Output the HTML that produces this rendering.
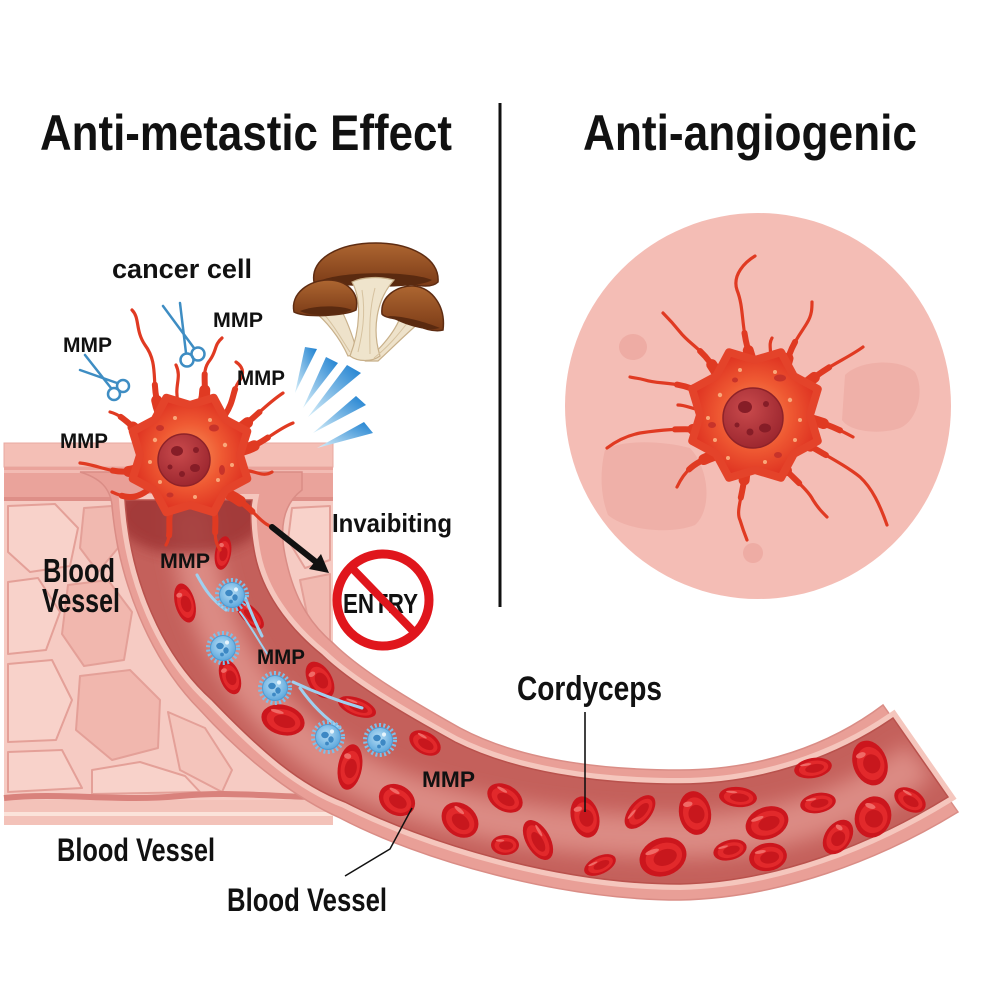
<!DOCTYPE html>
<html><head><meta charset="utf-8"><title>Cordyceps Anti-metastatic &amp; Anti-angiogenic</title>
<style>
html,body{margin:0;padding:0;background:#fff;}
svg{display:block;}
text{font-family:"Liberation Sans",Arial,sans-serif;font-weight:700;fill:#111;}
</style></head>
<body>
<svg xmlns="http://www.w3.org/2000/svg" xmlns:xlink="http://www.w3.org/1999/xlink" width="1000" height="1000" viewBox="0 0 1000 1000">
<defs>
 <radialGradient id="cg" cx="50%" cy="50%" r="50%"><stop offset="0" stop-color="#f8935a"/><stop offset="0.55" stop-color="#ef5a33"/><stop offset="1" stop-color="#df3422"/></radialGradient>
 <radialGradient id="ng" cx="40%" cy="35%" r="65%"><stop offset="0" stop-color="#c94a4c"/><stop offset="1" stop-color="#9e2830"/></radialGradient>
 <linearGradient id="ray" x1="0" y1="1" x2="1" y2="0"><stop offset="0" stop-color="#d8eff9"/><stop offset="1" stop-color="#1b7fd0"/></linearGradient>
 <radialGradient id="bc" cx="45%" cy="40%" r="60%"><stop offset="0" stop-color="#b8def5"/><stop offset="1" stop-color="#5ea8dd"/></radialGradient>
 <linearGradient id="cap" x1="0" y1="0" x2="0" y2="1"><stop offset="0" stop-color="#ad6631"/><stop offset="1" stop-color="#7b3b17"/></linearGradient>
 <filter id="bl" x="-30%" y="-30%" width="160%" height="160%"><feGaussianBlur stdDeviation="10"/></filter>
 <filter id="bl2" x="-30%" y="-30%" width="160%" height="160%"><feGaussianBlur stdDeviation="6"/></filter>
 <clipPath id="chan"><path d="M125,500 C130,580 162,655 212,700 C262,752 300,785 345,802 C425,843 560,884 680,884 C775,882 870,845 948,797 L893,718 C835,758 760,784 680,784 C595,784 515,772 455,742 C400,712 350,682 322,655 C285,625 262,590 255,555 C250,530 250,510 252,500 Z"/></clipPath>
 <clipPath id="circ"><circle cx="758" cy="406" r="193"/></clipPath>
 <g id="rbc">
   <ellipse rx="1" ry="1" fill="#cc161d"/>
   <ellipse cx="0.03" cy="0.03" rx="0.78" ry="0.74" fill="#e2292b"/>
   <ellipse cx="0.08" cy="0.06" rx="0.5" ry="0.42" fill="#c8171d"/>
   <ellipse cx="-0.35" cy="-0.45" rx="0.3" ry="0.12" fill="#f06a66"/>
 </g>
 <g id="bcell">
   <circle r="14.5" fill="none" stroke="#7fbfe8" stroke-width="5" stroke-dasharray="2 2.2"/>
   <circle r="12.5" fill="url(#bc)" stroke="#4e9bd3" stroke-width="1"/>
   <ellipse cx="-3" cy="-2" rx="3.8" ry="3.2" fill="#3d88c4"/>
   <ellipse cx="3" cy="2.5" rx="2.7" ry="3.2" fill="#3d88c4"/>
   <circle cx="-1" cy="6.5" r="1.9" fill="#3d88c4"/>
   <circle cx="4" cy="-5.5" r="2.1" fill="#e6f4fc"/>
 </g>
 <path id="l1" d="M160,412 C150,385 160,365 145,345 C135,330 140,318 132,310"/>
 <path id="l2" d="M203,402 C208,385 200,372 210,360 C217,350 214,345 222,338"/>
 <path id="l3" d="M225,415 C235,400 232,390 240,380 C245,372 242,366 236,362"/>
 <path id="l4" d="M238,430 C255,418 265,405 283,393"/>
 <path id="l5" d="M243,450 C262,445 275,430 293,423"/>
 <path id="l6" d="M242,470 C255,470 262,478 272,472"/>
 <path id="l7" d="M230,495 C250,505 258,520 268,525 C272,528 275,530 278,533"/>
 <path id="l8" d="M212,505 C220,520 210,535 220,550"/>
 <path id="l9" d="M172,508 C166,520 173,532 166,545"/>
 <path id="l10" d="M140,468 C120,478 100,465 80,463"/>
 <path id="l11" d="M142,435 C130,425 122,415 110,412"/>
 <path id="l12" d="M148,490 C135,500 125,498 112,492"/>
 <path id="l13" d="M178,402 C174,385 182,378 176,365"/>
 <path id="r1" d="M752,362 C740,330 745,310 737,290 C732,275 745,262 755,256"/>
 <path id="r2" d="M718,375 C705,350 690,345 680,332 C672,322 668,318 663,313"/>
 <path id="r3" d="M785,370 C790,345 800,335 807,323 C812,315 812,308 812,302"/>
 <path id="r4" d="M805,385 C828,365 845,360 863,347"/>
 <path id="r5" d="M705,395 C680,380 660,385 645,380 C638,378 634,378 630,377"/>
 <path id="r6" d="M705,430 C680,428 660,430 640,433 C625,436 615,442 607,448"/>
 <path id="r7" d="M715,455 C695,462 685,470 677,487"/>
 <path id="r8" d="M745,468 C745,490 735,510 740,520 C743,530 745,535 747,540"/>
 <path id="r9" d="M778,462 C795,480 808,490 813,500 C818,508 822,512 827,517"/>
 <path id="r10" d="M800,440 C825,455 845,465 860,477 C872,488 880,505 887,525"/>
 <path id="r11" d="M812,420 C830,425 840,430 853,437"/>
 <path id="r12" d="M770,362 C772,350 768,345 772,338"/>
 <path id="r13" d="M700,410 C690,408 685,405 678,405"/>
</defs>

<rect width="1000" height="1000" fill="#fff"/>

<text x="40" y="150" font-size="50" textLength="412" lengthAdjust="spacingAndGlyphs">Anti-metastic Effect</text>
<text x="583" y="150" font-size="50" textLength="334" lengthAdjust="spacingAndGlyphs">Anti-angiogenic</text>
<line x1="500" y1="103" x2="500" y2="607" stroke="#111" stroke-width="3"/>

<circle cx="758" cy="406" r="193" fill="#f4bdb5"/>
<g clip-path="url(#circ)">
 <ellipse cx="633" cy="347" rx="14" ry="13" fill="#eeaca4"/>
 <path d="M845,375 C860,360 900,358 915,372 C925,390 918,420 900,428 C880,435 850,432 842,420 Z" fill="#efb0a8"/>
 <path d="M605,450 C620,440 660,440 690,448 C710,470 712,510 695,525 C670,535 625,530 608,515 C600,495 600,470 605,450 Z" fill="#efb0a8"/>
 <circle cx="753" cy="553" r="10" fill="#eeaca4"/>
</g>
<g fill="none" stroke="#e03a22" stroke-linecap="round">
 <g stroke-width="3.2"><use xlink:href="#r1"/><use xlink:href="#r2"/><use xlink:href="#r3"/><use xlink:href="#r4"/><use xlink:href="#r5"/><use xlink:href="#r6"/><use xlink:href="#r7"/><use xlink:href="#r8"/><use xlink:href="#r9"/><use xlink:href="#r10"/><use xlink:href="#r11"/><use xlink:href="#r12"/><use xlink:href="#r13"/></g>
 <g stroke-width="6" stroke-dasharray="30 500"><use xlink:href="#r1"/><use xlink:href="#r2"/><use xlink:href="#r3"/><use xlink:href="#r4"/><use xlink:href="#r5"/><use xlink:href="#r6"/><use xlink:href="#r7"/><use xlink:href="#r8"/><use xlink:href="#r9"/><use xlink:href="#r10"/><use xlink:href="#r11"/></g>
 <g stroke-width="11" stroke-dasharray="12 500"><use xlink:href="#r1"/><use xlink:href="#r2"/><use xlink:href="#r3"/><use xlink:href="#r4"/><use xlink:href="#r5"/><use xlink:href="#r6"/><use xlink:href="#r7"/><use xlink:href="#r8"/><use xlink:href="#r9"/><use xlink:href="#r10"/><use xlink:href="#r11"/></g>
</g>
<polygon points="810,415 817.8,441 793.9,453.9 781,477.8 755,470 729,477.8 716.1,453.9 692.2,441 700,415 692.2,389 716.1,376.1 729,352.2 755,360 781,352.2 793.9,376.1 817.8,389" fill="url(#cg)" stroke="#e4432a" stroke-width="8" stroke-linejoin="round"/>
<g fill="#f9a77a">
 <circle cx="720" cy="395" r="2.2"/><circle cx="790" cy="400" r="2.2"/><circle cx="795" cy="440" r="2"/><circle cx="715" cy="440" r="2"/><circle cx="740" cy="370" r="2"/><circle cx="775" cy="372" r="2"/><circle cx="765" cy="462" r="2"/><circle cx="728" cy="458" r="2"/><circle cx="800" cy="420" r="2"/><circle cx="708" cy="418" r="2"/>
</g>
<g fill="#c7332a"><ellipse cx="780" cy="378" rx="6" ry="3.5"/><ellipse cx="712" cy="425" rx="4" ry="3"/><ellipse cx="778" cy="455" rx="4" ry="3"/><ellipse cx="735" cy="380" rx="3" ry="2.5"/></g>
<circle cx="753" cy="418" r="30" fill="url(#ng)" stroke="#8e2229" stroke-width="1.5"/>
<g fill="#861d27"><ellipse cx="745" cy="407" rx="7" ry="6"/><ellipse cx="765" cy="428" rx="6" ry="4.5"/><circle cx="750" cy="432" r="3.5"/><circle cx="766" cy="404" r="3"/><circle cx="737" cy="425" r="2.5"/></g>

<rect x="4" y="443" width="329" height="382" fill="#f6cbc3"/>
<rect x="4" y="443" width="329" height="24" fill="#f4bfb6" stroke="#e8a8a0" stroke-width="1"/>
<rect x="4" y="467" width="329" height="31" fill="#eaa39b"/>
<rect x="4" y="470" width="329" height="3" fill="#f2bbb3"/>
<rect x="4" y="497" width="329" height="4" fill="#de8f88"/>
<g stroke="#e4a098" stroke-width="2" stroke-linejoin="round">
 <path d="M8,506 L55,504 L78,528 L70,566 L30,572 L8,552 Z" fill="#f8d2ca"/>
 <path d="M84,508 L112,506 L118,548 L98,572 L80,548 Z" fill="#f1b9b0"/>
 <path d="M8,582 L38,578 L60,612 L46,650 L8,654 Z" fill="#f8d2ca"/>
 <path d="M68,585 L108,580 L132,612 L124,660 L84,666 L62,634 Z" fill="#f1b7ae"/>
 <path d="M8,664 L52,660 L72,700 L56,740 L8,742 Z" fill="#f8d2ca"/>
 <path d="M80,676 L130,670 L160,700 L158,748 L112,760 L76,730 Z" fill="#f1b7ae"/>
 <path d="M8,752 L62,750 L82,788 L8,792 Z" fill="#f8d2ca"/>
 <path d="M92,770 L140,762 L185,776 L200,792 L92,794 Z" fill="#f8d2ca"/>
 <path d="M168,712 L205,728 L232,770 L222,792 L180,770 Z" fill="#f4c4bb"/>
 <path d="M292,508 L330,506 L330,560 L305,568 L288,540 Z" fill="#f8d2ca"/>
 <path d="M300,580 L330,574 L330,640 L312,638 Z" fill="#f1b9b0"/>
</g>
<rect x="4" y="800" width="329" height="25" fill="#f3c2b9"/>
<path d="M4,798 C60,792 120,802 180,796 C240,790 300,800 333,796" fill="none" stroke="#d9827c" stroke-width="6"/>
<rect x="4" y="812" width="329" height="4" fill="#fbe3da"/>

<path d="M80,472 C100,478 110,488 112,505 C118,580 150,660 200,710 C250,765 300,800 340,818 C420,860 560,900 680,900 C780,898 880,860 958,812 L883,705 C830,745 760,770 680,770 C600,770 520,760 460,728 C410,700 360,670 333,643 C305,620 292,590 285,555 C280,530 282,505 302,490 L302,472 Z" fill="#e99f97" stroke="#da8d86" stroke-width="1.5"/>
<path d="M125,500 C130,580 162,655 212,700 C262,752 300,785 345,802 C425,843 560,884 680,884 C775,882 870,845 948,797 L893,718 C835,758 760,784 680,784 C595,784 515,772 455,742 C400,712 350,682 322,655 C285,625 262,590 255,555 C250,530 250,510 252,500 Z" fill="#c4605b" stroke="#f5c6bd" stroke-width="12"/>
<g clip-path="url(#chan)">
 <rect x="100" y="480" width="900" height="450" fill="#c4605b"/>
 <path d="M190,505 C195,610 240,700 330,760 C420,815 560,838 690,836 C790,834 870,800 920,760" fill="none" stroke="#dc8b84" stroke-width="42" filter="url(#bl)"/>
 <ellipse cx="190" cy="515" rx="75" ry="40" fill="#9c3232" filter="url(#bl2)" opacity="0.8"/>
</g>
<path d="M125,500 C130,580 162,655 212,700 C262,752 300,785 345,802 C425,843 560,884 680,884 C775,882 870,845 948,797 L893,718 C835,758 760,784 680,784 C595,784 515,772 455,742 C400,712 350,682 322,655 C285,625 262,590 255,555 C250,530 250,510 252,500 Z" fill="none" stroke="#b9524d" stroke-width="1.5"/>

<use xlink:href="#rbc" transform="translate(223,553) rotate(10) scale(8,17)"/>
<use xlink:href="#rbc" transform="translate(185,603) rotate(-15) scale(10,20)"/>
<use xlink:href="#rbc" transform="translate(250,615) rotate(45) scale(18,8)"/>
<use xlink:href="#rbc" transform="translate(230,677) rotate(-20) scale(10,18)"/>
<use xlink:href="#rbc" transform="translate(320,680) rotate(-30) scale(12,20)"/>
<use xlink:href="#rbc" transform="translate(283,720) rotate(15) scale(22,15)"/>
<use xlink:href="#rbc" transform="translate(357,707) rotate(20) scale(20,9)"/>
<use xlink:href="#rbc" transform="translate(350,767) rotate(10) scale(12,23)"/>
<use xlink:href="#rbc" transform="translate(425,743) rotate(30) scale(17,11)"/>
<use xlink:href="#rbc" transform="translate(397,800) rotate(30) scale(19,15)"/>
<use xlink:href="#rbc" transform="translate(460,820) rotate(40) scale(20,16)"/>
<use xlink:href="#rbc" transform="translate(505,798) rotate(30) scale(19,13)"/>
<use xlink:href="#rbc" transform="translate(505,845) rotate(0) scale(14,10)"/>
<use xlink:href="#rbc" transform="translate(538,840) rotate(60) scale(22,12)"/>
<use xlink:href="#rbc" transform="translate(585,817) rotate(-15) scale(14,21)"/>
<use xlink:href="#rbc" transform="translate(600,865) rotate(-25) scale(17,9)"/>
<use xlink:href="#rbc" transform="translate(640,812) rotate(-50) scale(20,11)"/>
<use xlink:href="#rbc" transform="translate(663,857) rotate(-20) scale(24,19)"/>
<use xlink:href="#rbc" transform="translate(695,813) rotate(-10) scale(16,22)"/>
<use xlink:href="#rbc" transform="translate(738,797) rotate(5) scale(19,10)"/>
<use xlink:href="#rbc" transform="translate(730,850) rotate(-15) scale(17,10)"/>
<use xlink:href="#rbc" transform="translate(767,823) rotate(-20) scale(22,16)"/>
<use xlink:href="#rbc" transform="translate(768,857) rotate(-10) scale(19,14)"/>
<use xlink:href="#rbc" transform="translate(813,768) rotate(-10) scale(19,10)"/>
<use xlink:href="#rbc" transform="translate(818,803) rotate(-10) scale(18,10)"/>
<use xlink:href="#rbc" transform="translate(870,763) rotate(-20) scale(17,23)"/>
<use xlink:href="#rbc" transform="translate(873,817) rotate(20) scale(18,21)"/>
<use xlink:href="#rbc" transform="translate(838,837) rotate(35) scale(13,19)"/>
<use xlink:href="#rbc" transform="translate(910,800) rotate(30) scale(17,11)"/>

<g fill="none" stroke="#9fd0ef" stroke-width="3" stroke-linecap="round">
 <path d="M197,575 C205,590 212,600 226,610"/>
 <path d="M245,597 C250,610 255,622 262,636"/>
 <path d="M240,612 C250,625 258,640 268,655" stroke-width="2"/>
 <path d="M293,682 C310,690 335,700 362,708"/>
 <path d="M300,688 C312,705 325,718 340,728"/>
</g>
<use xlink:href="#bcell" transform="translate(232,595)"/>
<use xlink:href="#bcell" transform="translate(223,648)"/>
<use xlink:href="#bcell" transform="translate(275,688)"/>
<use xlink:href="#bcell" transform="translate(328,737)"/>
<use xlink:href="#bcell" transform="translate(380,740)"/>

<g fill="none" stroke="#e03a22" stroke-linecap="round">
 <g stroke-width="3.2"><use xlink:href="#l1"/><use xlink:href="#l2"/><use xlink:href="#l3"/><use xlink:href="#l4"/><use xlink:href="#l5"/><use xlink:href="#l6"/><use xlink:href="#l7"/><use xlink:href="#l8"/><use xlink:href="#l9"/><use xlink:href="#l10"/><use xlink:href="#l11"/><use xlink:href="#l12"/><use xlink:href="#l13"/></g>
 <g stroke-width="6" stroke-dasharray="28 500"><use xlink:href="#l1"/><use xlink:href="#l2"/><use xlink:href="#l3"/><use xlink:href="#l4"/><use xlink:href="#l5"/><use xlink:href="#l7"/><use xlink:href="#l8"/><use xlink:href="#l9"/><use xlink:href="#l10"/><use xlink:href="#l11"/><use xlink:href="#l12"/></g>
 <g stroke-width="11" stroke-dasharray="12 500"><use xlink:href="#l1"/><use xlink:href="#l2"/><use xlink:href="#l4"/><use xlink:href="#l5"/><use xlink:href="#l7"/><use xlink:href="#l10"/><use xlink:href="#l11"/></g>
</g>
<polygon points="240,455 247.3,478.7 225.4,490.4 213.7,512.3 190,505 166.3,512.3 154.6,490.4 132.7,478.7 140,455 132.7,431.3 154.6,419.6 166.3,397.7 190,405 213.7,397.7 225.4,419.6 247.3,431.3" fill="url(#cg)" stroke="#e4432a" stroke-width="8" stroke-linejoin="round"/>
<g fill="#f9a77a">
 <circle cx="155" cy="440" r="2.2"/><circle cx="225" cy="445" r="2.2"/><circle cx="218" cy="480" r="2"/><circle cx="160" cy="482" r="2"/><circle cx="175" cy="418" r="2"/><circle cx="210" cy="420" r="2"/><circle cx="195" cy="497" r="2"/><circle cx="150" cy="462" r="2"/><circle cx="232" cy="465" r="2"/>
</g>
<g fill="#c7332a"><ellipse cx="214" cy="428" rx="5" ry="3.5"/><ellipse cx="160" cy="428" rx="4" ry="3"/><ellipse cx="222" cy="470" rx="3" ry="5"/><ellipse cx="170" cy="495" rx="3.5" ry="2.5"/></g>
<circle cx="184" cy="460" r="26" fill="url(#ng)" stroke="#8e2229" stroke-width="1.5"/>
<g fill="#861d27"><ellipse cx="177" cy="451" rx="6" ry="5"/><ellipse cx="195" cy="468" rx="5" ry="4"/><circle cx="182" cy="474" r="3"/><circle cx="196" cy="450" r="3"/><circle cx="170" cy="467" r="2.5"/></g>

<g fill="none" stroke="#3e8dc3" stroke-width="2.5" stroke-linecap="round">
 <line x1="163" y1="306" x2="194" y2="348"/>
 <line x1="180" y1="303" x2="186" y2="353"/>
 <circle cx="198" cy="354" r="6.5"/>
 <circle cx="187" cy="360" r="6.5"/>
 <line x1="85" y1="355" x2="111" y2="388"/>
 <line x1="80" y1="370" x2="117" y2="383"/>
 <circle cx="114" cy="394" r="6"/>
 <circle cx="123" cy="386" r="6"/>
</g>

<path d="M314,282 C310,258 340,243 376,243 C410,243 440,258 438,282 C432,288 420,286 410,284 C395,280 360,280 340,284 C330,286 318,287 314,282 Z" fill="url(#cap)" stroke="#5e2c12" stroke-width="1.5"/>
<path d="M322,280 C345,271 410,271 432,280 C420,289 340,289 322,280 Z" fill="#5a2a10"/>
<path d="M312,310 C326,320 340,338 348,356 L358,354 C352,334 346,318 340,308 C330,306 320,307 312,310 Z" fill="#eee2ca" stroke="#c8b08a" stroke-width="1.2"/>
<path d="M400,318 C394,333 382,347 366,361 L378,361 C392,348 406,334 420,322 C413,319 406,318 400,318 Z" fill="#eee2ca" stroke="#c8b08a" stroke-width="1.2"/>
<path d="M352,282 C362,300 360,330 350,356 C358,362 372,362 380,356 C372,330 376,300 394,280 C380,276 362,277 352,282 Z" fill="#efe4cc" stroke="#c8b08a" stroke-width="1.2"/>
<g stroke="#d6c29f" stroke-width="1" fill="none"><path d="M362,290 C366,315 362,335 358,352"/><path d="M375,288 C368,315 370,335 370,354"/><path d="M322,312 C334,325 342,340 350,352"/><path d="M408,322 C398,335 388,347 374,358"/></g>
<path d="M294,312 C290,293 310,280 328,280 C346,280 360,292 356,310 C345,316 305,318 294,312 Z" fill="url(#cap)" stroke="#5e2c12" stroke-width="1.5"/>
<path d="M300,311 C315,305 340,305 352,310 C340,316 310,317 300,311 Z" fill="#5a2a10"/>
<path d="M382,314 C380,296 398,285 414,286 C432,288 446,306 443,330 C432,333 418,326 405,321 C394,318 385,318 382,314 Z" fill="url(#cap)" stroke="#5e2c12" stroke-width="1.5"/>
<path d="M388,316 C405,316 425,322 440,328 C425,332 405,325 388,316 Z" fill="#5a2a10"/>

<polygon points="295,393 305,347 317,349" fill="url(#ray)"/>
<polygon points="303,408 326,357 338,363" fill="url(#ray)"/>
<polygon points="308,417 347,365 361,373" fill="url(#ray)"/>
<polygon points="313,433 356,396 366,405" fill="url(#ray)"/>
<polygon points="317,448 364,422 373,433" fill="url(#ray)"/>

<line x1="272" y1="527" x2="316" y2="562" stroke="#111" stroke-width="6" stroke-linecap="round"/>
<polygon points="329,573 309,569 321,554" fill="#111"/>
<circle cx="383" cy="600" r="46" fill="#fff" stroke="#e0161c" stroke-width="9"/>
<text x="343" y="613" font-size="28" textLength="75" lengthAdjust="spacingAndGlyphs">ENTRY</text>
<line x1="351" y1="567" x2="415" y2="633" stroke="#e0161c" stroke-width="8"/>

<text x="112" y="278" font-size="27" textLength="140" lengthAdjust="spacingAndGlyphs">cancer cell</text>
<text x="213" y="327" font-size="21" textLength="50" lengthAdjust="spacingAndGlyphs">MMP</text>
<text x="63" y="352" font-size="21" textLength="49" lengthAdjust="spacingAndGlyphs">MMP</text>
<text x="237" y="385" font-size="21" textLength="48" lengthAdjust="spacingAndGlyphs">MMP</text>
<text x="60" y="448" font-size="21" textLength="48" lengthAdjust="spacingAndGlyphs">MMP</text>
<text x="160" y="568" font-size="21" textLength="50" lengthAdjust="spacingAndGlyphs">MMP</text>
<text x="257" y="664" font-size="21" textLength="48" lengthAdjust="spacingAndGlyphs">MMP</text>
<text x="422" y="787" font-size="22" textLength="53" lengthAdjust="spacingAndGlyphs">MMP</text>
<text x="43" y="582" font-size="33" textLength="72" lengthAdjust="spacingAndGlyphs">Blood</text>
<text x="42" y="612" font-size="33" textLength="78" lengthAdjust="spacingAndGlyphs">Vessel</text>
<text x="332" y="532" font-size="26" textLength="120" lengthAdjust="spacingAndGlyphs">Invaibiting</text>
<text x="517" y="700" font-size="34" textLength="145" lengthAdjust="spacingAndGlyphs">Cordyceps</text>
<text x="57" y="861" font-size="32" textLength="158" lengthAdjust="spacingAndGlyphs">Blood Vessel</text>
<text x="227" y="911" font-size="32" textLength="160" lengthAdjust="spacingAndGlyphs">Blood Vessel</text>

<line x1="585" y1="712" x2="585" y2="812" stroke="#111" stroke-width="1.6"/>
<polyline points="345,876 390,849 412,808" fill="none" stroke="#111" stroke-width="1.5"/>
</svg>
</body></html>
